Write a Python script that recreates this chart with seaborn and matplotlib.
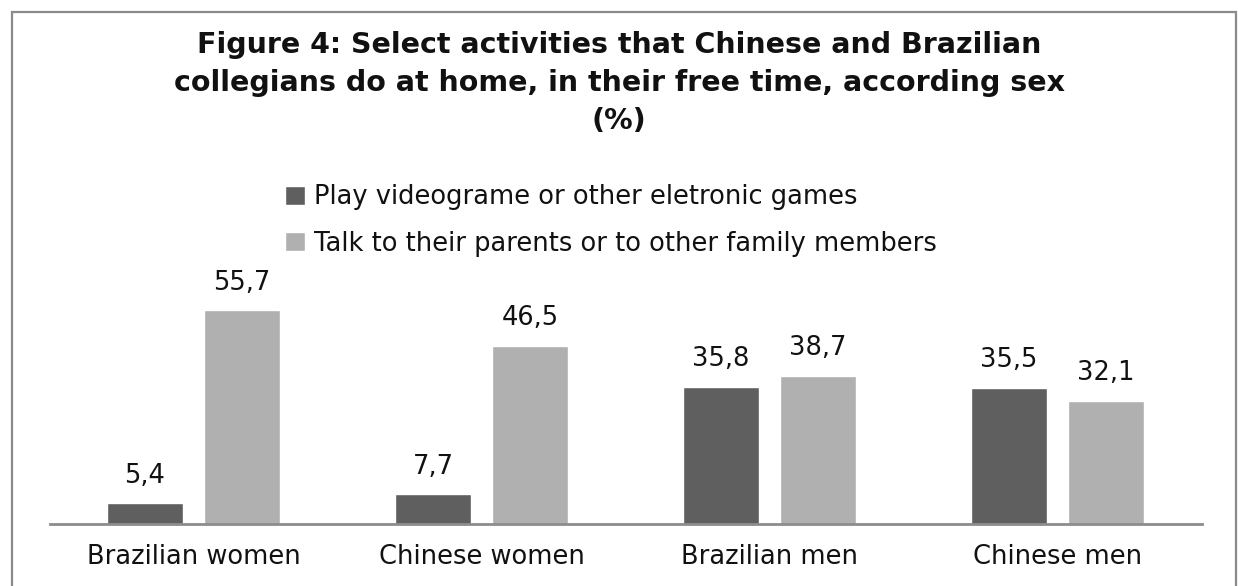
import matplotlib
matplotlib.use("Agg")
import matplotlib.pyplot as plt
import seaborn as sns
import pandas as pd
from matplotlib.patches import Rectangle

groups = ["Brazilian women", "Chinese women", "Brazilian men", "Chinese men"]
activities = ["Play videograme or other eletronic games",
              "Talk to their parents or to other family members"]
play_games = [5.4, 7.7, 35.8, 35.5]
talk_family = [55.7, 46.5, 38.7, 32.1]
colors = ["#5f5f5f", "#b0b0b0"]

df = pd.DataFrame({
    "group": groups * 2,
    "activity": [activities[0]] * 4 + [activities[1]] * 4,
    "value": play_games + talk_family,
})

sns.set_theme(style="white")
plt.rcParams["font.family"] = ["DejaVu Sans"]

W, H = 1238, 586
fig = plt.figure(figsize=(W / 100, H / 100), dpi=100)
fig.patch.set_facecolor("white")

# axes placed in pixel terms
ax_left, ax_right, ax_bottom, ax_top = 49.5, 1201.5, 524, 290
ax = fig.add_axes([ax_left / W, (H - ax_bottom) / H,
                   (ax_right - ax_left) / W, (ax_bottom - ax_top) / H])

sns.barplot(data=df, x="group", y="value", hue="activity", order=groups,
            hue_order=activities, palette=colors, width=0.674, gap=0.217,
            saturation=1, ax=ax, legend=True)

ax.set_ylim(0, 61)
ax.set_xlim(-0.5, 3.5)
ax.set_xlabel("")
ax.set_ylabel("")
ax.set_yticks([])
for side in ["top", "right", "left"]:
    ax.spines[side].set_visible(False)
ax.spines["bottom"].set_color("#8c8c8c")
ax.spines["bottom"].set_linewidth(2)
ax.tick_params(axis="x", length=0, pad=14.5, labelsize=18.5, colors="#111111")

# value labels above bars
for container in ax.containers:
    labels = [f"{b.get_height():.1f}".replace(".", ",") for b in container]
    ax.bar_label(container, labels=labels, padding=10.5, fontsize=18.5,
                 color="#111111")

# legend stacked above the bars
handles, labs = ax.get_legend_handles_labels()
ax.legend(handles, labs, loc="upper left",
          bbox_to_anchor=(275 / W, 1 - 174 / H), bbox_transform=fig.transFigure,
          frameon=False, fontsize=18.5, handlelength=0.75, handleheight=0.75,
          handletextpad=0.35, labelspacing=0.8, borderaxespad=0,
          labelcolor="#111111")

fig.text(0.5, 1 - 31 / H,
         "Figure 4: Select activities that Chinese and Brazilian\n"
         "collegians do at home, in their free time, according sex\n(%)",
         ha="center", va="top", fontsize=20.5, fontweight="bold",
         color="#111111", linespacing=1.46)

# outer frame
fig.add_artist(Rectangle((11.5 / W, -0.05), (1236 - 11.5) / W, 1.05 - 12 / H,
                         transform=fig.transFigure, fill=False,
                         edgecolor="#8a8a8a", linewidth=1.6))

fig.savefig("out.png", dpi=100, facecolor="white")
